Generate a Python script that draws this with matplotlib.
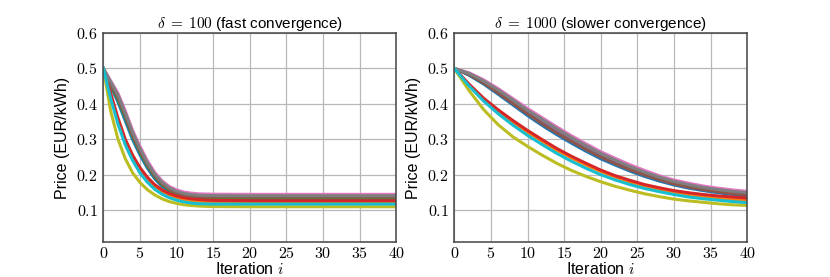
import matplotlib
matplotlib.use("Agg")
import matplotlib.pyplot as plt
from matplotlib.ticker import FuncFormatter

plt.rcParams["mathtext.fontset"] = "cm"
plt.rcParams["font.family"] = ["Liberation Sans", "DejaVu Sans"]

iter_fast = [0, 1, 2, 3, 4, 5, 6, 7, 8, 9, 10, 11, 12, 13, 14, 15, 20, 25, 30, 35, 40]
iter_slow = [0, 2, 4, 6, 8, 10, 12, 14, 16, 18, 20, 22, 24, 26, 28, 30, 32, 34, 36, 38, 40]

colors = ["tab:blue", "tab:orange", "tab:green", "tab:red", "tab:purple",
          "tab:brown", "tab:pink", "tab:gray", "tab:olive", "tab:cyan"]

# delta = 100
fast_blue = [0.5, 0.45, 0.405, 0.352, 0.299, 0.256, 0.219, 0.189, 0.167, 0.152, 0.143, 0.137, 0.134, 0.132, 0.1315, 0.131, 0.131, 0.131, 0.131, 0.131, 0.131]
fast_orange = [0.5, 0.425, 0.354, 0.294, 0.249, 0.214, 0.188, 0.167, 0.152, 0.142, 0.135, 0.13, 0.127, 0.125, 0.124, 0.1235, 0.123, 0.123, 0.123, 0.123, 0.123]
fast_green = [0.5, 0.455, 0.413, 0.362, 0.308, 0.264, 0.226, 0.195, 0.172, 0.157, 0.147, 0.141, 0.138, 0.136, 0.1355, 0.135, 0.135, 0.135, 0.135, 0.135, 0.135]
fast_red = [0.5, 0.43, 0.36, 0.30, 0.255, 0.22, 0.193, 0.172, 0.157, 0.147, 0.14, 0.135, 0.132, 0.13, 0.1285, 0.1275, 0.1265, 0.1265, 0.1265, 0.1265, 0.1265]
fast_purple = [0.5, 0.46, 0.421, 0.37, 0.315, 0.27, 0.231, 0.2, 0.177, 0.161, 0.151, 0.145, 0.142, 0.14, 0.1395, 0.139, 0.139, 0.139, 0.139, 0.139, 0.139]
fast_brown = [0.5, 0.457, 0.417, 0.366, 0.311, 0.267, 0.229, 0.197, 0.174, 0.159, 0.149, 0.143, 0.14, 0.138, 0.1375, 0.137, 0.137, 0.137, 0.137, 0.137, 0.137]
fast_pink = [0.5, 0.465, 0.43, 0.38, 0.325, 0.28, 0.24, 0.207, 0.183, 0.167, 0.157, 0.151, 0.148, 0.146, 0.1455, 0.145, 0.1445, 0.1445, 0.1445, 0.1445, 0.1445]
fast_gray = [0.5, 0.462, 0.425, 0.374, 0.319, 0.274, 0.234, 0.202, 0.179, 0.163, 0.153, 0.147, 0.144, 0.142, 0.1415, 0.141, 0.1405, 0.1405, 0.1405, 0.1405, 0.1405]
fast_olive = [0.5, 0.38, 0.3, 0.245, 0.205, 0.178, 0.158, 0.143, 0.132, 0.124, 0.119, 0.115, 0.113, 0.1115, 0.1105, 0.11, 0.1095, 0.1095, 0.1095, 0.1095, 0.1095]
fast_cyan = [0.5, 0.415, 0.343, 0.284, 0.24, 0.205, 0.179, 0.159, 0.145, 0.135, 0.128, 0.123, 0.12, 0.118, 0.1175, 0.117, 0.117, 0.117, 0.117, 0.117, 0.117]

# delta = 1000
slow_blue = [0.5, 0.481, 0.456, 0.427, 0.397, 0.367, 0.339, 0.313, 0.289, 0.266, 0.245, 0.227, 0.21, 0.195, 0.182, 0.171, 0.162, 0.155, 0.149, 0.144, 0.14]
slow_orange = [0.5, 0.454, 0.413, 0.379, 0.348, 0.32, 0.294, 0.269, 0.247, 0.227, 0.209, 0.193, 0.179, 0.167, 0.157, 0.149, 0.142, 0.137, 0.133, 0.13, 0.127]
slow_green = [0.5, 0.484, 0.461, 0.434, 0.405, 0.376, 0.349, 0.323, 0.298, 0.275, 0.254, 0.235, 0.218, 0.203, 0.189, 0.177, 0.168, 0.16, 0.154, 0.149, 0.145]
slow_red = [0.5, 0.456, 0.416, 0.383, 0.353, 0.325, 0.299, 0.274, 0.252, 0.232, 0.213, 0.197, 0.184, 0.172, 0.163, 0.155, 0.149, 0.144, 0.14, 0.137, 0.134]
slow_purple = [0.5, 0.485, 0.463, 0.436, 0.408, 0.379, 0.352, 0.326, 0.301, 0.278, 0.257, 0.238, 0.22, 0.205, 0.191, 0.179, 0.17, 0.162, 0.156, 0.151, 0.147]
slow_brown = [0.5, 0.483, 0.459, 0.431, 0.401, 0.372, 0.344, 0.318, 0.294, 0.271, 0.25, 0.231, 0.214, 0.199, 0.186, 0.174, 0.165, 0.158, 0.152, 0.147, 0.143]
slow_pink = [0.5, 0.488, 0.468, 0.443, 0.415, 0.387, 0.361, 0.335, 0.31, 0.287, 0.265, 0.246, 0.228, 0.212, 0.197, 0.185, 0.176, 0.168, 0.162, 0.157, 0.153]
slow_gray = [0.5, 0.486, 0.465, 0.439, 0.411, 0.382, 0.356, 0.33, 0.305, 0.282, 0.26, 0.241, 0.223, 0.207, 0.193, 0.181, 0.172, 0.164, 0.158, 0.153, 0.149]
slow_olive = [0.5, 0.438, 0.384, 0.341, 0.307, 0.28, 0.255, 0.232, 0.212, 0.195, 0.18, 0.167, 0.156, 0.146, 0.138, 0.131, 0.126, 0.122, 0.118, 0.115, 0.113]
slow_cyan = [0.5, 0.451, 0.408, 0.372, 0.34, 0.311, 0.285, 0.26, 0.238, 0.218, 0.2, 0.185, 0.172, 0.161, 0.152, 0.144, 0.137, 0.132, 0.128, 0.124, 0.121]

fast = [fast_blue, fast_orange, fast_green, fast_red, fast_purple,
        fast_brown, fast_pink, fast_gray, fast_olive, fast_cyan]
slow = [slow_blue, slow_orange, slow_green, slow_red, slow_purple,
        slow_brown, slow_pink, slow_gray, slow_olive, slow_cyan]

titles = [r"$\delta\;=\;100$ (fast convergence)", r"$\delta\;=\;1000$ (slower convergence)"]

fig = plt.figure(figsize=(8.3, 2.77), dpi=100)
ax1 = fig.add_axes([0.1245, 0.1264, 0.353, 0.7545])
ax2 = fig.add_axes([0.5473, 0.1264, 0.353, 0.7545])

tick_fmt = FuncFormatter(lambda v, p: "$%g$" % round(v, 2))

for ax, xs, series, title in [(ax1, iter_fast, fast, titles[0]),
                              (ax2, iter_slow, slow, titles[1])]:
    for c, ys in zip(colors, series):
        ax.plot(xs, ys, color=c, lw=2.2)
    ax.set_xlim(0, 40)
    ax.set_ylim(0.01, 0.6)
    ax.set_xticks([0, 5, 10, 15, 20, 25, 30, 35, 40])
    ax.set_yticks([0.1, 0.2, 0.3, 0.4, 0.5, 0.6])
    ax.xaxis.set_major_formatter(tick_fmt)
    ax.yaxis.set_major_formatter(tick_fmt)
    ax.tick_params(length=0, labelsize=11.5)
    ax.tick_params(axis="x", pad=3)
    ax.tick_params(axis="y", pad=4)
    ax.grid(True, color="#b8b8b8", lw=0.9)
    ax.set_axisbelow(True)
    for s in ax.spines.values():
        s.set_color("#444444")
        s.set_linewidth(1.1)
    ax.set_title(title, fontsize=11, pad=3)
    ax.set_xlabel(r"Iteration $i$", fontsize=11.5, labelpad=0)
    ax.set_ylabel("Price (EUR/kWh)", fontsize=11.5, labelpad=4)

fig.savefig("out.png", dpi=100)
